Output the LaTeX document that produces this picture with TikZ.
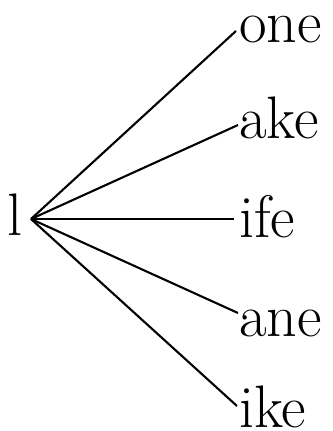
\documentclass[tikz,border=0pt]{standalone}
\usepackage{tikz}
\usetikzlibrary{positioning}

\begin{document}
\begin{tikzpicture}[x=1pt,y=-1pt,
  word/.style={inner sep=0pt,anchor=base west,font=\fontsize{60}{62}\selectfont},
  branch/.style={line width=2.1pt}]
\useasboundingbox (0,0) rectangle (332,431);
\node[word] (root) at (7,235) {l};
\coordinate (hub) at (31,219);
% leaves, top to bottom
\node[word] (one) at (239,42) {one};
\node[word] (ake) at (239,138) {ake};
\node[word] (ife) at (239,237) {ife};
\node[word] (ane) at (239,336) {ane};
\node[word] (ike) at (239,427) {ike};
\coordinate (e1) at (236,31);
\coordinate (e2) at (238,125);
\coordinate (e3) at (234,219);
\coordinate (e4) at (238,313);
\coordinate (e5) at (237,406);
\foreach \e in {e1,e2,e3,e4,e5}
  \draw[branch] (hub) -- (\e);
\end{tikzpicture}
\end{document}
